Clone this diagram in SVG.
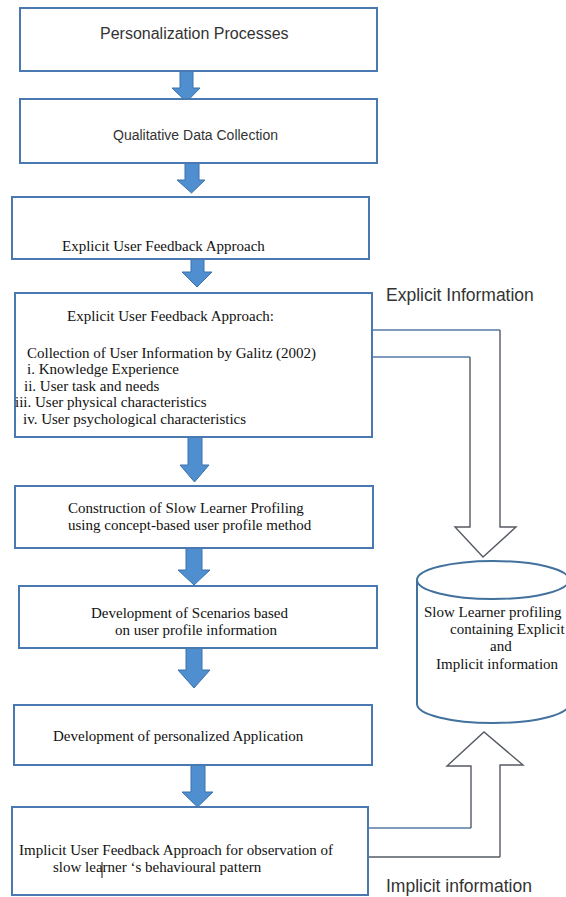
<svg xmlns="http://www.w3.org/2000/svg" width="566" height="897" viewBox="0 0 566 897">
<style>
.box{fill:#fff;stroke:#4a78b0;stroke-width:2}
.cyl{fill:#fff;stroke:#41719c;stroke-width:2}
.arr{fill:#4f8fd0;stroke:#3d72ab;stroke-width:1}
.blk{fill:none;stroke:#555b63;stroke-width:1.4;stroke-linejoin:miter}
.blu{fill:none;stroke:#5678a8;stroke-width:1.4}
.sans{font-family:"Liberation Sans",Arial,sans-serif;fill:#333}
.ser{font-family:"Liberation Serif","Times New Roman",serif;font-size:15px;fill:#111}
</style>
<rect width="566" height="897" fill="#fff"/>
<g id="connectors">
  <polygon class="arr" points="180,71 193,71 193,88 200,88 186.5,102 172,88 180,88"/>
  <polygon class="arr" points="185,163 199,163 199,180 205,180 191.5,193 177,180 185,180"/>
  <polygon class="arr" points="191,259 204,259 204,272 212,272 197,287 182,272 191,272"/>
  <polygon class="arr" points="188,437 202,437 202,465 209,465 194.5,482 180,465 188,465"/>
  <polygon class="arr" points="186,548 202,548 202,570 210,570 194,585 178,570 186,570"/>
  <polygon class="arr" points="186,648 202,648 202,670 210,670 194,688 178,670 186,670"/>
  <polygon class="arr" points="191,765 205,765 205,792 213,792 197.5,807 182,792 191,792"/>
  <g id="explicit-arrow">
    <polyline class="blu" points="370,330 500,330"/>
    <polyline class="blu" points="373,357 470,357"/>
    <polyline class="blk" points="500,330 500,527 516,527 483,557 455,527 470,527 470,357"/>
  </g>
  <g id="implicit-arrow">
    <polyline class="blu" points="368,828 471,828"/>
    <polyline class="blk" points="368,857 500,857"/>
    <polyline class="blk" points="471,828 471,766 447,766 484,732 523,765 500,765 500,857"/>
  </g>
</g>
<g id="n1">
  <rect class="box" x="20" y="8" width="357" height="63"/>
  <text class="sans" x="100" y="39" font-size="16">Personalization Processes</text>
</g>
<g id="n2">
  <rect class="box" x="20" y="99" width="357" height="64"/>
  <text class="sans" x="113" y="140" font-size="14">Qualitative Data Collection</text>
</g>
<g id="n3">
  <rect class="box" x="12" y="197" width="357" height="62"/>
  <text class="ser" x="62" y="251">Explicit User Feedback Approach</text>
</g>
<g id="n4">
  <rect class="box" x="15" y="293" width="357" height="144"/>
  <text class="ser" x="67" y="321">Explicit User Feedback Approach:</text>
  <text class="ser" x="27" y="358">Collection of User Information by Galitz (2002)</text>
  <text class="ser" x="27" y="374">i. Knowledge Experience</text>
  <text class="ser" x="24" y="390.5">ii. User task and needs</text>
  <text class="ser" x="15" y="407">iii. User physical characteristics</text>
  <text class="ser" x="23" y="423.5">iv. User psychological characteristics</text>
</g>
<g id="n5">
  <rect class="box" x="15" y="486" width="358" height="62"/>
  <text class="ser" x="68" y="513">Construction of Slow Learner Profiling</text>
  <text class="ser" x="68" y="530">using concept-based user profile method</text>
</g>
<g id="n6">
  <rect class="box" x="19" y="586" width="358" height="62"/>
  <text class="ser" x="91" y="618">Development of Scenarios based</text>
  <text class="ser" x="115" y="635">on user profile information</text>
</g>
<g id="n7">
  <rect class="box" x="14" y="705" width="358" height="60"/>
  <text class="ser" x="53" y="741">Development of personalized Application</text>
</g>
<g id="n8">
  <rect class="box" x="12" y="807" width="356" height="88"/>
  <text class="ser" x="19" y="855">Implicit User Feedback Approach for observation of</text>
  <text class="ser" x="53" y="872">slow learner ‘s behavioural pattern</text>
  <line x1="102" y1="862" x2="102" y2="878" stroke="#111" stroke-width="1"/>
</g>
<g id="db">
  <path class="cyl" d="M417,580 L417,704 A76,19 0 0 0 569,704 L569,580"/>
  <ellipse class="cyl" cx="493" cy="580" rx="76" ry="19"/>
  <text class="ser" x="424" y="617">Slow Learner profiling</text>
  <text class="ser" x="450" y="634">containing Explicit</text>
  <text class="ser" x="490" y="651">and</text>
  <text class="ser" x="436" y="669">Implicit information</text>
</g>
<text class="sans" x="386" y="301" font-size="17.5">Explicit Information</text>
<text class="sans" x="386" y="892" font-size="17.5">Implicit information</text>
</svg>
